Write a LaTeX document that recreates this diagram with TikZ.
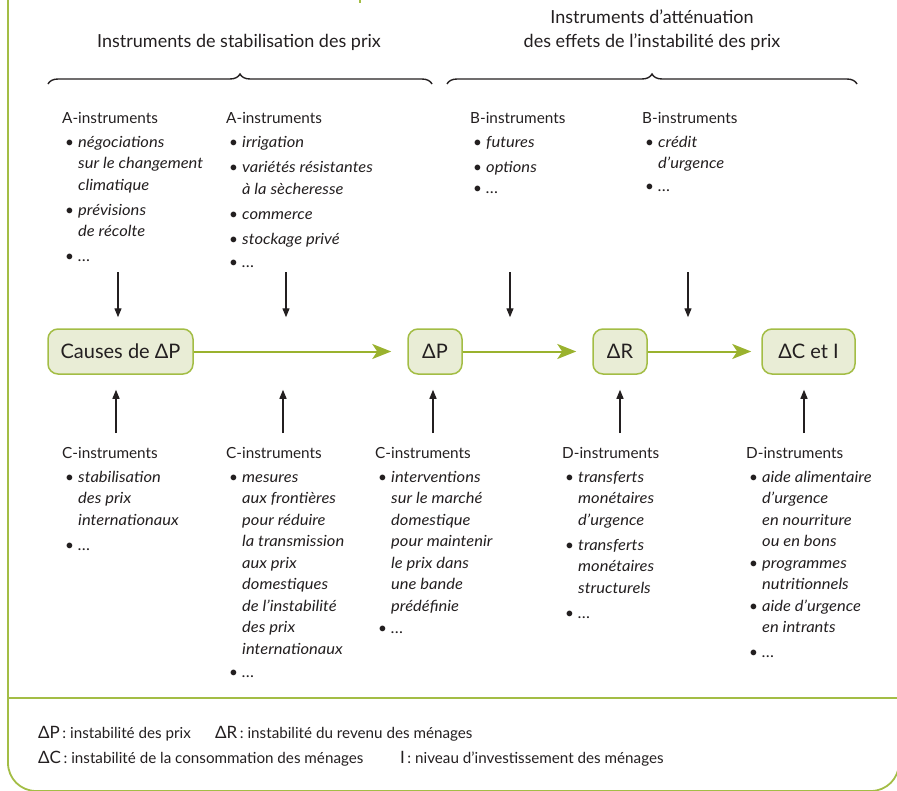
\documentclass[tikz,border=0pt]{standalone}
\usepackage{fontspec}
\setmainfont{Lato}[ItalicFeatures={FakeStretch=1.08}]
\usetikzlibrary{arrows.meta,decorations.pathreplacing}
\definecolor{frameg}{HTML}{A3BD45}
\definecolor{boxfill}{HTML}{E9EDD6}
\definecolor{arrg}{HTML}{9AB22E}
\definecolor{txt}{HTML}{231F20}
\newcommand\bt{\hspace*{3pt}\makebox[13pt][l]{\textbullet}}
\newcommand\ct{\hspace*{16pt}}
\newcommand\lgd[1]{{\fontsize{17}{16}\selectfont #1}}
\begin{document}
\begin{tikzpicture}[x=1pt,y=-1pt,
  every node/.style={text=txt,inner sep=0pt},
  lst/.style={anchor=north west,align=left,font=\fontsize{15.3}{21.5}\selectfont},
  ttl/.style={align=center,font=\fontsize{18}{24}\selectfont},
  gbox/.style={draw=frameg,fill=boxfill,line width=1.5pt,rounded corners=10pt,minimum height=45pt,font=\fontsize{20}{20}\selectfont},
  garr/.style={draw=arrg,line width=2pt,-{Stealth[length=19pt,width=15pt,inset=5pt]}},
  blk/.style={draw=txt,line width=1.3pt,-{Triangle[length=9pt,width=7pt]}},
  brc/.style={draw=txt,line width=1.4pt,decorate,decoration={brace,amplitude=10pt}},
  leg/.style={anchor=base west,font=\fontsize{15.2}{16}\selectfont}]
\useasboundingbox (0,0) rectangle (897,790);
% frame
\begin{scope}
\clip (0,0) rectangle (897,790);
\draw[frameg,line width=1.8pt,rounded corners=28pt] (8,-50) rectangle (899,791);
\end{scope}
\draw[frameg,line width=1.8pt] (8,698) -- (897,698);
\draw[frameg,line width=2pt] (360,0) -- (360,3);
% titles
\node[ttl,anchor=base] (t1) at (239,47) {Instruments de stabilisation des prix};
\node[ttl,anchor=base] (t2) at (652,47) {Instruments d’atténuation\\des effets de l’instabilité des prix};
\coordinate (b1s) at (48,84); \coordinate (b1e) at (432,84);
\coordinate (b2s) at (447,84); \coordinate (b2e) at (857,84);
\draw[brc] (b1s) -- (b1e);
\draw[brc] (b2s) -- (b2e);
% top lists
\node[lst] (a1) at (62,112) {A-instruments\\[2.5pt]
\bt\textit{négociations}\\
\ct\textit{sur le changement}\\
\ct\textit{climatique}\\[3.5pt]
\bt\textit{prévisions}\\
\ct\textit{de récolte}\\[3.5pt]
\bt\textit{…}};
\node[lst] (a2) at (226,112) {A-instruments\\[2.5pt]
\bt\textit{irrigation}\\[4pt]
\bt\textit{variétés résistantes}\\
\ct\textit{à la sècheresse}\\[3.5pt]
\bt\textit{commerce}\\[3.5pt]
\bt\textit{stockage privé}\\[1.5pt]
\bt\textit{…}};
\node[lst] (b1) at (470,112) {B-instruments\\[2.5pt]
\bt\textit{futures}\\[3.5pt]
\bt\textit{options}\\[0pt]
\bt\textit{…}};
\node[lst] (b2) at (642,112) {B-instruments\\[2.5pt]
\bt\textit{crédit}\\
\ct\textit{d’urgence}\\[1pt]
\bt\textit{…}};
% boxes
\node[gbox,minimum width=145pt] (c) at (120.5,351.5) {Causes de ΔP};
\node[gbox,minimum width=54pt] (dp) at (435,351.5) {ΔP};
\node[gbox,minimum width=54pt] (dr) at (620,351.5) {ΔR};
\node[gbox,minimum width=93pt] (dc) at (808.5,351.5) {ΔC et I};
\draw[garr,shorten >=16pt] (c) -- (dp);
\draw[garr,shorten >=16pt] (dp) -- (dr);
\draw[garr,shorten >=10pt] (dr) -- (dc);
% top arrows
\coordinate (ta1) at (118,272);
\coordinate (ta2) at (286,272);
\coordinate (ta3) at (510,272);
\coordinate (ta4) at (688,272);
\foreach \i in {1,2,3,4}{\draw[blk,shorten >=11pt] (ta\i) -- (ta\i |- c.north);}
% bottom arrows
\coordinate (ba1) at (116,433);
\coordinate (ba2) at (283,433);
\coordinate (ba3) at (433,433);
\coordinate (ba4) at (620,433);
\coordinate (ba5) at (804,433);
\foreach \i in {1,2,3,4,5}{\draw[blk,shorten >=15pt] (ba\i) -- (ba\i |- c.south);}
% bottom lists
\node[lst] (c1) at (62,447) {C-instruments\\[2.5pt]
\bt\textit{stabilisation}\\
\ct\textit{des prix}\\
\ct\textit{internationaux}\\[3.5pt]
\bt\textit{…}};
\node[lst] (c2) at (226,447) {C-instruments\\[2.5pt]
\bt\textit{mesures}\\
\ct\textit{aux frontières}\\
\ct\textit{pour réduire}\\
\ct\textit{la transmission}\\
\ct\textit{aux prix}\\
\ct\textit{domestiques}\\
\ct\textit{de l’instabilité}\\
\ct\textit{des prix}\\
\ct\textit{internationaux}\\[2pt]
\bt\textit{…}};
\node[lst] (c3) at (375,447) {C-instruments\\[2.5pt]
\bt\textit{interventions}\\
\ct\textit{sur le marché}\\
\ct\textit{domestique}\\
\ct\textit{pour maintenir}\\
\ct\textit{le prix dans}\\
\ct\textit{une bande}\\
\ct\textit{prédéfinie}\\[1pt]
\bt\textit{…}};
\node[lst] (d1) at (562,447) {D-instruments\\[2.5pt]
\bt\textit{transferts}\\
\ct\textit{monétaires}\\
\ct\textit{d’urgence}\\[3.5pt]
\bt\textit{transferts}\\
\ct\textit{monétaires}\\
\ct\textit{structurels}\\[3.5pt]
\bt\textit{…}};
\node[lst] (d2) at (746,447) {D-instruments\\[2.5pt]
\bt\textit{aide alimentaire}\\
\ct\textit{d’urgence}\\
\ct\textit{en nourriture}\\
\ct\textit{ou en bons}\\
\bt\textit{programmes}\\
\ct\textit{nutritionnels}\\
\bt\textit{aide d’urgence}\\
\ct\textit{en intrants}\\[3.5pt]
\bt\textit{…}};
% legend
\node[leg] (l1) at (38,738) {\lgd{ΔP}\,: instabilité des prix};
\node[leg] (l2) at (215,738) {\lgd{ΔR}\,: instabilité du revenu des ménages};
\node[leg] (l3) at (38,763) {\lgd{ΔC}\,: instabilité de la consommation des ménages};
\node[leg] (l4) at (400,763) {\lgd{I}\,: niveau d’investissement des ménages};
\end{tikzpicture}
\end{document}
